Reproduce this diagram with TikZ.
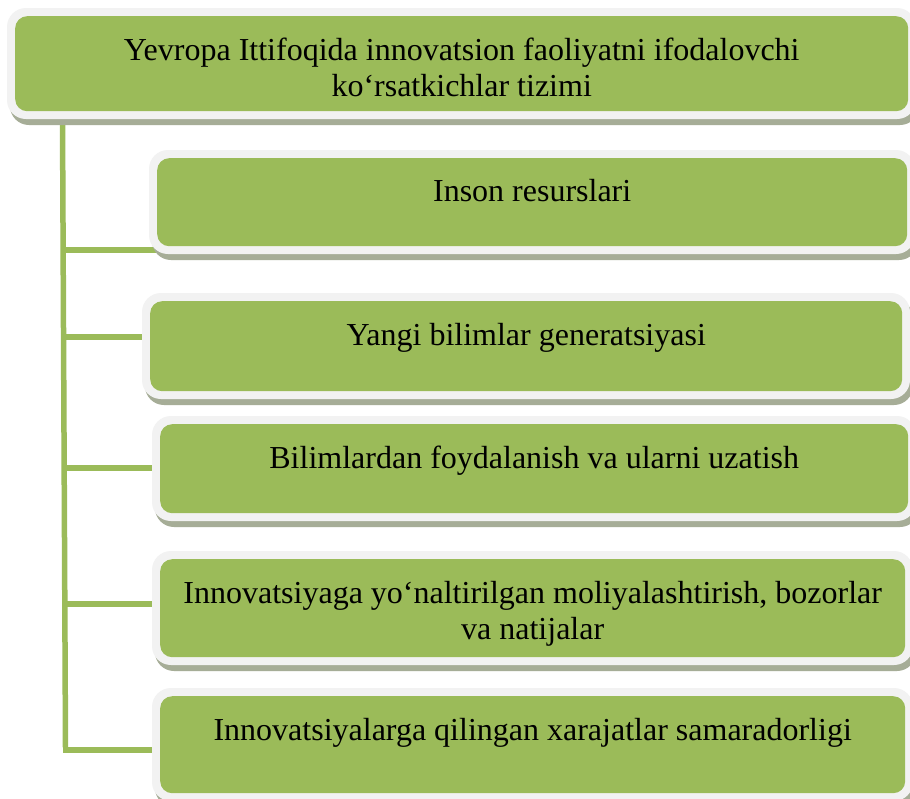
\documentclass[tikz,border=0pt]{standalone}
\usepackage{fontspec}
\setmainfont{Liberation Serif}
\usetikzlibrary{calc}
\definecolor{boxgreen}{HTML}{9BBB59}
\definecolor{boxrim}{HTML}{F2F2F2}
\definecolor{boxshadow}{HTML}{A6AD97}
\pgfdeclarelayer{back}
\pgfdeclarelayer{bg}
\pgfsetlayers{back,bg,main}
\tikzset{
  greenbox/.style={fill=boxgreen, rounded corners=12pt, inner sep=0pt, anchor=north west},
  rimfill/.style={fill=boxrim, rounded corners=19pt},
  shadowfill/.style={fill=boxshadow, rounded corners=19pt},
  conn/.style={draw=boxgreen, line width=5.5pt},
  txt/.style={font=\fontsize{32}{36.8}\selectfont, align=center, anchor=base, inner sep=0pt},
}
% name, x1, y1, x2, y2  (pixel coords, y downwards)
\newcommand\smartbox[5]{%
  \fill[shadowfill] ({#2-8+3},{#3-8+6}) rectangle ({#4+8+3},{#5+8+6});
  \fill[rimfill] ({#2-8},{#3-8}) rectangle ({#4+8},{#5+8});
  \node[greenbox, minimum width={(#4-#2)*1pt}, minimum height={(#5-#3)*1pt}] (#1) at (#2,#3) {};
}
\begin{document}
\begin{tikzpicture}[x=1pt,y=-1pt]
\useasboundingbox (0,0) rectangle (910,798);
\begin{pgfonlayer}{back}
\fill[white] (0,0) rectangle (910,798);
\end{pgfonlayer}

\smartbox{top}{15}{16}{908}{111}
\smartbox{b1}{157}{158}{907}{246}
\smartbox{b2}{150}{301}{902}{391}
\smartbox{b3}{160}{424}{908}{513}
\smartbox{b4}{160}{559}{905}{657}
\smartbox{b5}{160}{696}{905}{793}

% two-line texts: base anchor is the last line's baseline
\node[txt] (ttop) at ($(top.north)+(0,80.8)$) {Yevropa Ittifoqida innovatsion faoliyatni ifodalovchi\\ko‘rsatkichlar tizimi};
\node[txt] (t1) at ($(b1.north)+(0,43)$) {Inson resurslari};
\node[txt] (t2) at ($(b2.north)+(0,44)$) {Yangi bilimlar generatsiyasi};
\node[txt] (t3) at ($(b3.north)+(0,44)$) {Bilimlardan foydalanish va ularni uzatish};
\node[txt] (t4) at ($(b4.north)+(0,80.8)$) {Innovatsiyaga yo‘naltirilgan moliyalashtirish, bozorlar\\va natijalar};
\node[txt] (t5) at ($(b5.north)+(0,44)$) {Innovatsiyalarga qilingan xarajatlar samaradorligi};

\coordinate (vtop) at (62.5,118);
\coordinate (v1) at (63.2,250);
\coordinate (v2) at (63.6,337);
\coordinate (v3) at (64.2,468);
\coordinate (v4) at (64.8,604);
\coordinate (v5) at (65.5,750);

\begin{pgfonlayer}{bg}
  \draw[conn] (vtop) -- ([yshift=2.75pt]v5);
  \draw[conn] (v1) -- (v1 -| b1.west);
  \draw[conn] (v2) -- (v2 -| b2.west);
  \draw[conn] (v3) -- (v3 -| b3.west);
  \draw[conn] (v4) -- (v4 -| b4.west);
  \draw[conn] ([xshift=-2.75pt]v5) -- (v5 -| b5.west);
\end{pgfonlayer}
\end{tikzpicture}
\end{document}
